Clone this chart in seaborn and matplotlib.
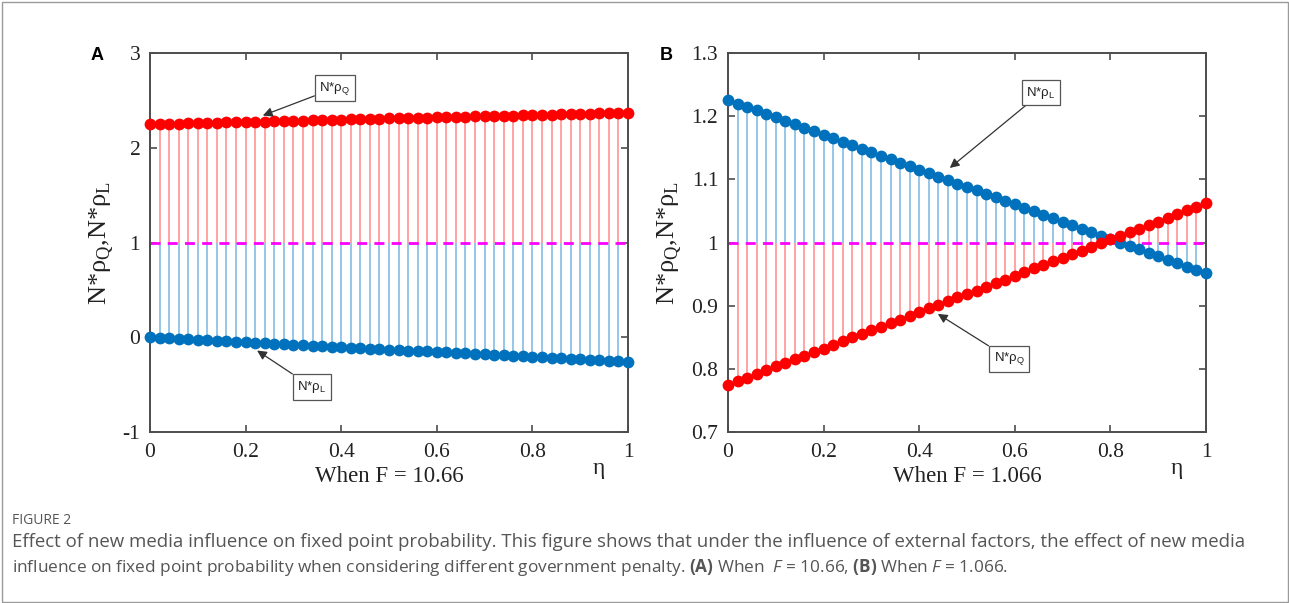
import matplotlib
matplotlib.use("Agg")
import matplotlib.pyplot as plt
import seaborn as sns
import pandas as pd
from matplotlib.patches import Rectangle

# ---------------- data ----------------
eta = [0.00, 0.02, 0.04, 0.06, 0.08, 0.10, 0.12, 0.14, 0.16, 0.18,
       0.20, 0.22, 0.24, 0.26, 0.28, 0.30, 0.32, 0.34, 0.36, 0.38,
       0.40, 0.42, 0.44, 0.46, 0.48, 0.50, 0.52, 0.54, 0.56, 0.58,
       0.60, 0.62, 0.64, 0.66, 0.68, 0.70, 0.72, 0.74, 0.76, 0.78,
       0.80, 0.82, 0.84, 0.86, 0.88, 0.90, 0.92, 0.94, 0.96, 0.98, 1.00]

# Panel A (F = 10.66)
a_rho_q = [2.247, 2.249, 2.252, 2.254, 2.257, 2.259, 2.262, 2.264, 2.267, 2.269,
           2.272, 2.274, 2.277, 2.279, 2.281, 2.284, 2.286, 2.289, 2.291, 2.294,
           2.296, 2.299, 2.301, 2.304, 2.306, 2.309, 2.311, 2.313, 2.316, 2.318,
           2.321, 2.323, 2.326, 2.328, 2.331, 2.333, 2.336, 2.338, 2.340, 2.343,
           2.345, 2.348, 2.350, 2.353, 2.355, 2.358, 2.360, 2.363, 2.365, 2.368, 2.370]
a_rho_l = [-0.002, -0.007, -0.012, -0.017, -0.022, -0.028, -0.033, -0.038, -0.043, -0.048,
           -0.053, -0.058, -0.063, -0.068, -0.073, -0.079, -0.084, -0.089, -0.094, -0.099,
           -0.104, -0.109, -0.114, -0.119, -0.124, -0.130, -0.135, -0.140, -0.145, -0.150,
           -0.155, -0.160, -0.165, -0.170, -0.175, -0.181, -0.186, -0.191, -0.196, -0.201,
           -0.206, -0.211, -0.216, -0.221, -0.226, -0.232, -0.237, -0.242, -0.247, -0.252, -0.257]

# Panel B (F = 1.066)
b_rho_l = [1.225, 1.220, 1.214, 1.209, 1.203, 1.198, 1.192, 1.187, 1.181, 1.176,
           1.170, 1.165, 1.159, 1.154, 1.148, 1.143, 1.137, 1.132, 1.126, 1.121,
           1.115, 1.110, 1.104, 1.099, 1.093, 1.088, 1.083, 1.077, 1.072, 1.066,
           1.061, 1.055, 1.050, 1.044, 1.039, 1.033, 1.028, 1.022, 1.017, 1.011,
           1.006, 1.000, 0.995, 0.989, 0.984, 0.978, 0.973, 0.967, 0.962, 0.956, 0.951]
b_rho_q = [0.775, 0.781, 0.786, 0.792, 0.798, 0.804, 0.809, 0.815, 0.821, 0.827,
           0.832, 0.838, 0.844, 0.850, 0.855, 0.861, 0.867, 0.873, 0.878, 0.884,
           0.890, 0.896, 0.901, 0.907, 0.913, 0.919, 0.924, 0.930, 0.936, 0.941,
           0.947, 0.953, 0.959, 0.964, 0.970, 0.976, 0.982, 0.987, 0.993, 0.999,
           1.005, 1.010, 1.016, 1.022, 1.028, 1.033, 1.039, 1.045, 1.051, 1.056, 1.062]

baseline = 1.0
x_ticks = [0, 0.2, 0.4, 0.6, 0.8, 1]
x_ticklabels = ["0", "0.2", "0.4", "0.6", "0.8", "1"]
a_y_ticks = [-1, 0, 1, 2, 3]
a_y_ticklabels = ["-1", "0", "1", "2", "3"]
b_y_ticks = [0.7, 0.8, 0.9, 1.0, 1.1, 1.2, 1.3]
b_y_ticklabels = ["0.7", "0.8", "0.9", "1", "1.1", "1.2", "1.3"]

# ---------------- style ----------------
sns.set_theme(style="white")
plt.rcParams["font.family"] = ["Liberation Serif", "DejaVu Serif"]
plt.rcParams["mathtext.fontset"] = "custom"
plt.rcParams["mathtext.rm"] = "Open Sans"
plt.rcParams["mathtext.it"] = "Open Sans:italic"
plt.rcParams["mathtext.bf"] = "Open Sans:bold"

RED = "#ff0000"
BLUE = "#0072bd"
RED_STEM = "#ff8a8a"
BLUE_STEM = "#7ab6e2"
SPINE = "#4d4d4d"
TXT = "#222222"

fig = plt.figure(figsize=(12.89, 6.03), dpi=100)
W, H = 1289, 603


def make_ax(left_px):
    return fig.add_axes([left_px / W, 1 - 432 / H, 478 / W, 379 / H])


axA = make_ax(150)
axB = make_ax(728)


def panel(ax, ser, ylim, yticks, yticklabels, xlabel):
    for vals, col, scol in ser:
        ax.vlines(eta, baseline, vals, color=scol, lw=1.1, zorder=1)
    ax.axhline(baseline, color="#ff00ff", lw=2.0, ls=(0, (3.6, 2.6)), zorder=2)
    for vals, col, scol in ser:
        df = pd.DataFrame({"eta": eta, "v": vals})
        sns.scatterplot(data=df, x="eta", y="v", color=col, s=72, linewidth=0,
                        ax=ax, zorder=3, legend=False, clip_on=False)
    ax.set_xlim(0, 1)
    ax.set_ylim(*ylim)
    ax.set_xticks(x_ticks)
    ax.set_xticklabels(x_ticklabels)
    ax.set_yticks(yticks)
    ax.set_yticklabels(yticklabels)
    ax.tick_params(direction="in", length=5, width=1.2, color=SPINE,
                   top=True, right=True, bottom=True, left=True,
                   labelsize=15.5, labelcolor=TXT)
    ax.tick_params(axis="x", pad=8)
    ax.tick_params(axis="y", pad=7)
    for s in ax.spines.values():
        s.set_color(SPINE)
        s.set_linewidth(1.4)
        s.set_visible(True)
    ax.set_xlabel(xlabel, fontsize=16.5, color=TXT, labelpad=3)
    ax.set_ylabel(r"N*ρ$_\mathregular{Q}$,N*ρ$_\mathregular{L}$", fontsize=19,
                  color=TXT, labelpad=5)
    ax.text(0.94, -0.095, "η", transform=ax.transAxes, fontsize=17,
            color=TXT, ha="center", va="center")


panel(axA, [(a_rho_l, BLUE, BLUE_STEM), (a_rho_q, RED, RED_STEM)],
      (-1, 3), a_y_ticks, a_y_ticklabels, "When F = 10.66")
panel(axB, [(b_rho_l, BLUE, BLUE_STEM), (b_rho_q, RED, RED_STEM)],
      (0.7, 1.3), b_y_ticks, b_y_ticklabels, "When F = 1.066")

box = dict(boxstyle="square,pad=0.35", fc="white", ec="#555555", lw=0.9)
arrow = dict(arrowstyle="-|>", color="#333333", lw=0.9, mutation_scale=14,
             shrinkA=0, shrinkB=0)
lab_q = r"N*ρ$_\mathregular{Q}$"
lab_l = r"N*ρ$_\mathregular{L}$"
afont = dict(fontsize=9.5, family=["Liberation Sans", "DejaVu Sans"], color=TXT,
             ha="center", va="center")

axA.annotate(lab_q, xy=(0.236, 2.34), xytext=(0.387, 2.63), bbox=box,
             arrowprops=arrow, zorder=5, **afont)
axA.annotate(lab_l, xy=(0.224, -0.14), xytext=(0.339, -0.525), bbox=box,
             arrowprops=arrow, zorder=5, **afont)
axB.annotate(lab_l, xy=(0.464, 1.118), xytext=(0.655, 1.237), bbox=box,
             arrowprops=arrow, zorder=5, **afont)
axB.annotate(lab_q, xy=(0.439, 0.887), xytext=(0.588, 0.816), bbox=box,
             arrowprops=arrow, zorder=5, **afont)

# panel letters
fig.text(97 / W, 1 - 55 / H, "A", fontsize=13, fontweight="bold",
         family=["Liberation Sans", "DejaVu Sans"], ha="center", va="center", color="black")
fig.text(666 / W, 1 - 55 / H, "B", fontsize=13, fontweight="bold",
         family=["Liberation Sans", "DejaVu Sans"], ha="center", va="center", color="black")

# caption
cap_font = ["Open Sans", "DejaVu Sans"]
fig.text(12 / W, 1 - 520 / H, "FIGURE 2", fontsize=10, family=cap_font,
         color="#555555", va="center", ha="left")
fig.text(12 / W, 1 - 542 / H,
         "Effect of new media influence on fixed point probability. This figure shows that under the "
         "influence of external factors, the effect of new media",
         fontsize=13.45, family=cap_font, color="#555555", va="center", ha="left")
fig.text(12 / W, 1 - 568 / H,
         r"influence on fixed point probability when considering different government penalty. "
         r"$\mathbf{(A)}$ When  $F$ = 10.66, $\mathbf{(B)}$ When $F$ = 1.066.",
         fontsize=12.4, family=cap_font, color="#555555", va="center", ha="left")

# outer frame
fig.patches.append(Rectangle((1.5 / W, 1.5 / H), 1 - 3 / W, 1 - 3 / H,
                             transform=fig.transFigure, fill=False,
                             ec="#9a9a9a", lw=1.0))

fig.savefig("out.png", dpi=100)
